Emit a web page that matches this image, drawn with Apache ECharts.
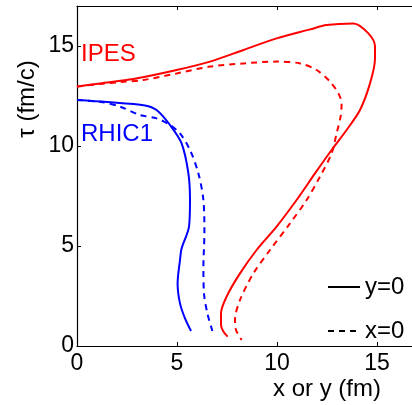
<!DOCTYPE html>
<html><head><meta charset="utf-8">
<script src="https://cdn.jsdelivr.net/npm/echarts@6/dist/echarts.min.js"></script>
<style>html,body{margin:0;padding:0;background:#fff;overflow:hidden}#c{width:420px;height:405px}</style>
</head><body><div id="c"></div>
<script>
// RHIC1, y=0 (solid) : [x, tau]
const rhicY0 = [[0,12.3],[1.5,12.2],[3.4,12.03],[3.98,11.8],[4.65,11.05],[5.23,10.13],[5.57,8.63],[5.65,7.3],[5.6,5.97],[5.23,4.88],[5.15,4.3],[5.03,3.13],[5.15,2.13],[5.4,1.38],[5.7,0.75]];
// RHIC1, x=0 (dashed)
const rhicX0 = [[0,12.3],[1.2,12.2],[2.15,11.97],[3.15,11.55],[3.98,11.38],[4.65,11.05],[5.15,10.63],[5.65,9.8],[6.07,8.63],[6.32,7.3],[6.37,5.63],[6.32,3.97],[6.35,2.63],[6.52,1.63],[6.77,0.75]];
// IPES, y=0 (solid)
const ipesY0 = [[0,12.97],[1.15,13.13],[2.82,13.35],[4.98,13.8],[6.65,14.22],[8.32,14.8],[9.98,15.38],[11.65,15.83],[12.48,16.05],[13.82,16.13],[14.57,15.63],[14.9,14.97],[14.9,14.38],[14.65,13.13],[14.15,11.8],[13.48,10.8],[12.73,9.8],[11.9,8.63],[10.98,7.3],[9.98,5.97],[8.98,4.8],[8.15,3.63],[7.48,2.47],[7.2,1.63],[7.2,1.05],[7.32,0.72],[7.53,0.47]];
// IPES, x=0 (dashed)
const ipesX0 = [[0,12.97],[1.15,13.1],[2.2,13.2],[3.32,13.3],[4.98,13.63],[6.65,13.97],[8.32,14.13],[9.98,14.22],[11.15,14.13],[11.98,13.8],[12.65,13.22],[13.07,12.63],[13.23,12.13],[13.18,11.47],[12.98,10.63],[12.73,9.63],[12.15,8.47],[11.48,7.3],[10.65,6.13],[9.65,4.8],[8.82,3.63],[8.15,2.3],[7.9,1.3],[7.95,0.8],[8.23,0.3]];

const xTicks = [0,5,10,15];
const yTicks = [0,5,10,15];
const legendNames = ['y=0','x=0'];

const FONT = '"Liberation Sans", Arial, sans-serif';
const chart = echarts.init(document.getElementById('c'), null, {renderer:'canvas'});

function lineSeries(name, data, color, type){
  return {type:'line', name:name, data:data, showSymbol:false, symbol:'none', smooth:0.3,
    lineStyle:{color:color, width:2, type:type}, itemStyle:{color:color},
    animation:false, silent:true, z:3};
}
const dash = [6,5];
const axisCommon = {
  min:0, max:17, interval:5,
  axisLine:{show:true, onZero:false, lineStyle:{color:'#000', width:1.2}},
  axisTick:{show:true, inside:true, length:4, lineStyle:{color:'#000'}},
  splitLine:{show:false}
};
chart.setOption({
  animation:false,
  backgroundColor:'#fff',
  grid:{left:77, top:6, width:340, height:340, containLabel:false},
  xAxis:[
    Object.assign({type:'value', position:'bottom',
      axisLabel:{show:true, fontSize:23, color:'#000', fontFamily:FONT, margin:6, showMaxLabel:false,
        formatter:v=> xTicks.includes(v)? String(v):''}}, axisCommon),
    Object.assign({type:'value', position:'top', axisLabel:{show:false}}, axisCommon)
  ],
  yAxis:[
    Object.assign({type:'value', position:'left',
      axisLabel:{show:true, fontSize:23, color:'#000', fontFamily:FONT, margin:3, showMaxLabel:false,
        formatter:v=> yTicks.includes(v)? String(v):''}}, axisCommon),
    Object.assign({type:'value', position:'right', axisLabel:{show:false}}, axisCommon)
  ],
  legend:{
    orient:'vertical', left:322, top:270, itemWidth:32, itemHeight:14, itemGap:20,
    selectedMode:false,
    itemStyle:{opacity:0},
    textStyle:{fontSize:24, color:'#000', fontFamily:FONT},
    data:legendNames
  },
  series:[
    lineSeries('RHIC1 y=0', rhicY0, '#0000ff', 'solid'),
    lineSeries('RHIC1 x=0', rhicX0, '#0000ff', dash),
    lineSeries('IPES y=0', ipesY0, '#ff0000', 'solid'),
    lineSeries('IPES x=0', ipesX0, '#ff0000', dash),
    {type:'line', name:legendNames[0], data:[], symbol:'none', lineStyle:{color:'#000', width:2, type:'solid'}, itemStyle:{color:'#000'}},
    {type:'line', name:legendNames[1], data:[], symbol:'none', lineStyle:{color:'#000', width:2, type:dash}, itemStyle:{color:'#000'}}
  ],
  graphic:[
    {type:'text', left:81, top:42, style:{text:'IPES', fill:'#ff0000', font:'24px '+FONT}},
    {type:'text', left:81, top:122, style:{text:'RHIC1', fill:'#0000ff', font:'24px '+FONT}},
    {type:'text', left:273, top:377, style:{text:'x or y (fm)', fill:'#000', font:'24px '+FONT}},
    {type:'text', x:27, y:99, rotation:Math.PI/2, style:{text:'τ (fm/c)', fill:'#000', font:'24px '+FONT, align:'center', verticalAlign:'middle'}}
  ]
});
</script></body></html>
